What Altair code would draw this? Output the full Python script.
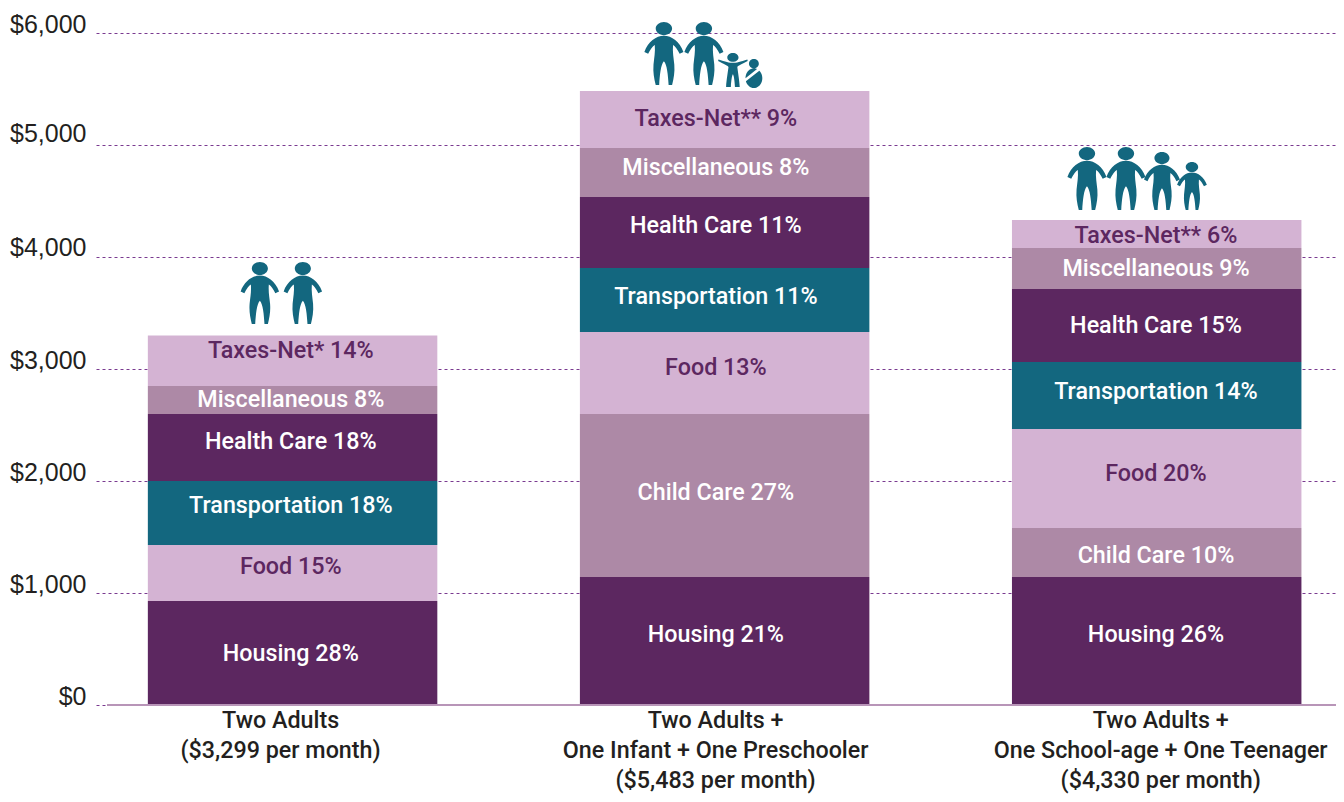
import math
import altair as alt
import pandas as pd

# ---- data ----
households = ["Two Adults|($3,299 per month)",
              "Two Adults +|One Infant + One Preschooler|($5,483 per month)",
              "Two Adults +|One School-age + One Teenager|($4,330 per month)"]
bar1_items = ["Housing", "Food", "Transportation", "Health Care", "Miscellaneous", "Taxes-Net"]
bar1_values = [929, 499, 572, 598, 250, 451]
bar1_labels = ["Housing 28%", "Food 15%", "Transportation 18%", "Health Care 18%", "Miscellaneous 8%", "Taxes-Net* 14%"]
bar1_label_y = [473, 1250, 1786, 2366, 2741, 3170]

bar2_items = ["Housing", "Child Care", "Food", "Transportation", "Health Care", "Miscellaneous", "Taxes-Net"]
bar2_values = [1143, 1455, 732, 572, 634, 437, 510]
bar2_labels = ["Housing 21%", "Child Care 27%", "Food 13%", "Transportation 11%", "Health Care 11%", "Miscellaneous 8%", "Taxes-Net** 9%"]
bar2_label_y = [634, 1902, 3018, 3652, 4286, 4804, 5250]

bar3_items = bar2_items
bar3_values = [1143, 437, 884, 598, 652, 366, 250]
bar3_labels = ["Housing 26%", "Child Care 10%", "Food 20%", "Transportation 14%", "Health Care 15%", "Miscellaneous 9%", "Taxes-Net** 6%"]
bar3_label_y = [634, 1348, 2080, 2804, 3393, 3902, 4205]

label_shift = [-1, -8, 0]

item_order = ["Housing", "Child Care", "Food", "Transportation", "Health Care", "Miscellaneous", "Taxes-Net"]
item_colors = ["#5c2760", "#ad89a6", "#d4b3d3", "#13677f", "#5c2760", "#ad89a6", "#d4b3d3"]
light_items = ["Food", "Taxes-Net"]

# people: household index, horizontal offset from the bar centre (px), vertical centre ($), height (px)
adult_house = [0, 0, 1, 1, 2, 2, 2, 2]
adult_off = [-32, 11, -60, -20, -69, -30, 6, 36]
adult_y = [3679, 3679, 5817, 5817, 4701, 4701, 4679, 4634]
adult_h = [62, 62, 63, 63, 63, 63, 58, 48]
child_house, child_off, child_y, child_h = [1], [9], [5670], [34]
baby_house, baby_off, baby_y, baby_h = [1], [30], [5638], [29]


# ---- icon shapes in the unit square ----
def ellipse(cx, cy, rx, ry):
    k = 0.5523
    return (f"M{cx-rx} {cy}C{cx-rx} {cy-k*ry} {cx-k*rx} {cy-ry} {cx} {cy-ry}"
            f"C{cx+k*rx} {cy-ry} {cx+rx} {cy-k*ry} {cx+rx} {cy}"
            f"C{cx+rx} {cy+k*ry} {cx+k*rx} {cy+ry} {cx} {cy+ry}"
            f"C{cx-k*rx} {cy+ry} {cx-rx} {cy+k*ry} {cx-rx} {cy}Z")


def sector(cx, cy, rx, ry, a0, a1, n=24):
    pts = []
    for i in range(n + 1):
        a = math.radians(a0 + (a1 - a0) * i / n)
        pts.append(f"{cx + rx*math.cos(a):.3f} {cy + ry*math.sin(a):.3f}")
    return "M" + "L".join(pts) + "Z"


adult_path = ellipse(0, -0.79, 0.26, 0.21) + (
    "M0 -0.56C0.25 -0.56 0.5 -0.37 0.62 -0.05L0.5 0.01C0.43 -0.13 0.36 -0.23 0.29 -0.27"
    "C0.27 -0.05 0.31 0.15 0.33 0.35C0.35 0.6 0.31 0.8 0.26 1L0.15 1"
    "C0.13 0.7 0.1 0.35 0 0.25"
    "C-0.1 0.35 -0.13 0.7 -0.15 1L-0.26 1C-0.31 0.8 -0.35 0.6 -0.33 0.35"
    "C-0.31 0.15 -0.27 -0.05 -0.29 -0.27C-0.36 -0.23 -0.43 -0.13 -0.5 0.01L-0.62 -0.05"
    "C-0.5 -0.37 -0.25 -0.56 0 -0.56Z")
child_path = ellipse(0, -0.74, 0.33, 0.26) + (
    "M0 -0.42C0.2 -0.42 0.45 -0.48 0.85 -0.62L0.87 -0.52C0.55 -0.35 0.32 -0.25 0.26 -0.18"
    "C0.28 0 0.38 0.6 0.4 1L0.12 1C0.1 0.6 0.05 0.3 0 0.25"
    "C-0.05 0.3 -0.1 0.6 -0.12 1L-0.4 1C-0.38 0.6 -0.28 0 -0.26 -0.18"
    "C-0.32 -0.25 -0.55 -0.35 -0.87 -0.52L-0.85 -0.62C-0.45 -0.48 -0.2 -0.42 0 -0.42Z")
baby_path = ellipse(0, -0.68, 0.34, 0.32) + sector(0, 0.32, 0.58, 0.68, -50, 162) + sector(0, 0.32, 0.58, 0.68, 180, 292)

# ---- tables ----
W, H = 1240, 672
BAND = 288
rows = []
for h, items, vals, labs, ly, sh in zip(households, [bar1_items, bar2_items, bar3_items],
                                        [bar1_values, bar2_values, bar3_values],
                                        [bar1_labels, bar2_labels, bar3_labels],
                                        [bar1_label_y, bar2_label_y, bar3_label_y], label_shift):
    for i, (it, v, l, y) in enumerate(zip(items, vals, labs, ly)):
        rows.append(dict(household=h, item=it, value=v, order=i, label=l, label_y=y, shift=sh + BAND / 2,
                         tone="dark" if it in light_items else "white"))
df = pd.DataFrame(rows)


def people(house, off, y, hgt):
    return pd.DataFrame(dict(household=[households[i] for i in house], off=[o + BAND / 2 for o in off], y=y,
                             size=[a * a for a in hgt]))


x_scale = alt.Scale(domain=households, paddingInner=0.33, paddingOuter=0.1, align=0.6)
x_plain = alt.X("household:N", scale=x_scale, sort=households, title=None)
FONT = "Roboto"

bars = alt.Chart(df).mark_bar().encode(
    x=alt.X("household:N", scale=x_scale, sort=households, title=None,
            axis=alt.Axis(domain=False, ticks=False, labelAngle=0, labelFont=FONT, labelFontSize=23.3,
                          labelFontWeight=500,
                          labelColor="#231f20", labelPadding=4, labelBaseline="top",
                          labelLineHeight=30, labelLimit=500,
                          labelExpr="split(datum.label, '|')",
                          labelOffset=alt.expr("indexof(datum.label,'Infant')>=0 ? -9 : (indexof(datum.label,'School')>=0 ? 4 : -12)"))),
    y=alt.Y("value:Q", stack="zero", scale=alt.Scale(domain=[0, 6000], nice=False), title=None,
            axis=alt.Axis(values=[0, 1000, 2000, 3000, 4000, 5000, 6000], labelExpr="'$' + format(datum.value, ',')",
                          domain=False, ticks=False, labelFont="Liberation Sans", labelFontSize=25,
                          labelColor="#231f20", labelPadding=10, labelBaseline="middle",
                          labelOffset=alt.expr("datum.value==5000 ? -12 : (datum.value==4000 ? -10 : -8.5)"),
                          grid=True, gridColor="#7a3a90", gridDash=[3, 3], gridWidth=1)),
    color=alt.Color("item:N", scale=alt.Scale(domain=item_order, range=item_colors), legend=None),
    order=alt.Order("order:Q"),
)

baseline = alt.Chart(pd.DataFrame({"v": [0]})).mark_rule(color="#b895b8", strokeWidth=2).encode(
    x=alt.value(11), x2=alt.value(W), y=alt.Y("v:Q", scale=alt.Scale(domain=[0, 6000], nice=False)),
)

labels = alt.Chart(df).mark_text(font=FONT, fontSize=23.3, fontWeight=500, baseline="middle", align="center", dy=1.5).encode(
    x=x_plain,
    xOffset=alt.XOffset("shift:Q", scale=None),
    y=alt.Y("label_y:Q"),
    text="label:N",
    color=alt.Color("tone:N", scale=alt.Scale(domain=["dark", "white"], range=["#5c2760", "#ffffff"]), legend=None),
)


def icon(tbl, path):
    return alt.Chart(tbl).mark_point(shape=path, filled=True, opacity=1, color="#13677f", strokeWidth=0).encode(
        x=x_plain,
        xOffset=alt.XOffset("off:Q", scale=None),
        y=alt.Y("y:Q"),
        size=alt.Size("size:Q", scale=None, legend=None),
    )


chart = alt.layer(
    bars, baseline, labels,
    icon(people(adult_house, adult_off, adult_y, adult_h), adult_path),
    icon(people(child_house, child_off, child_y, child_h), child_path),
    icon(people(baby_house, baby_off, baby_y, baby_h), baby_path),
).resolve_scale(color="independent").properties(
    width=W, height=H, autosize=alt.AutoSizeParams(type="none"),
    padding={"left": 88, "top": 25, "right": 0, "bottom": 89},
).configure_view(stroke=None)

chart.save("out.html", embed_options={"renderer": "svg", "actions": False})
